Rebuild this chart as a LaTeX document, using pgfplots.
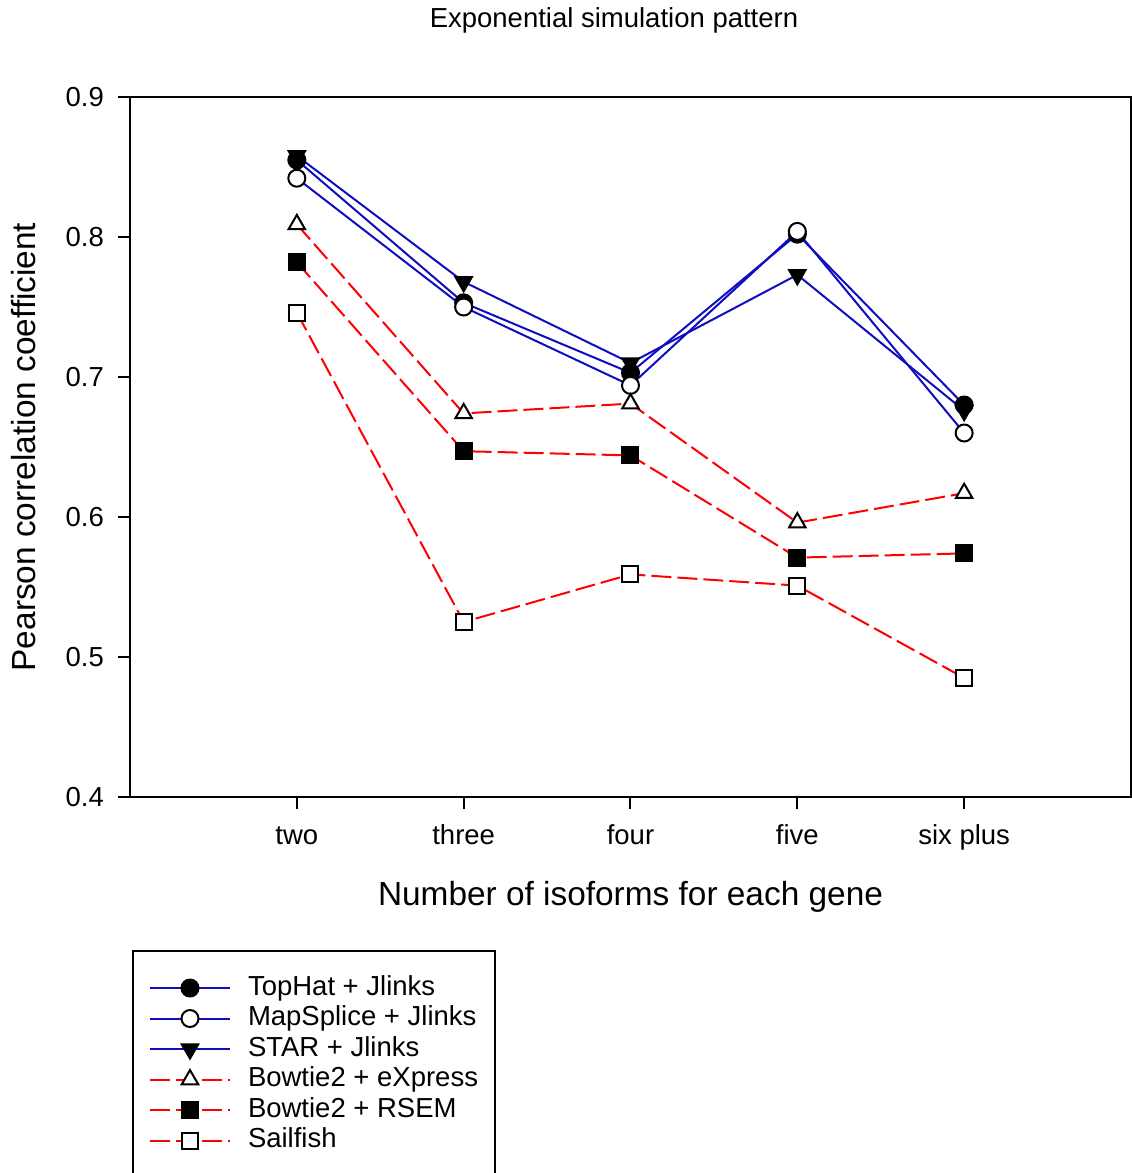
\documentclass[border=0pt]{standalone}
\usepackage{fontspec}
\setmainfont{Liberation Sans}
\usepackage{pgfplots}
\pgfplotsset{compat=1.18}
\definecolor{lineblue}{RGB}{14,14,192}
\definecolor{linered}{RGB}{255,0,0}

\newcommand{\ticksize}{\fontsize{13.75}{16}\selectfont}
\newcommand{\labelsize}{\fontsize{16.7}{20}\selectfont}

\begin{document}
\begin{tikzpicture}
\begin{axis}[
  at={(0pt,0pt)}, anchor=south west,
  width=500.5pt, height=350pt, scale only axis,
  xmin=-1, xmax=5, ymin=0.4, ymax=0.9,
  xtick={0,1,2,3,4},
  xticklabels={two,three,four,five,six plus},
  ytick={0.4,0.5,0.6,0.7,0.8,0.9},
  yticklabel style={xshift=-3.5pt,
    /pgf/number format/fixed, /pgf/number format/fixed zerofill,
    /pgf/number format/precision=1},
  /pgf/number format/assume math mode=true,
  ticklabel style={font=\ticksize},
  xticklabel style={anchor=base, yshift=-17.5pt},
  axis line style={line width=1pt},
  tick style={line width=1pt, black},
  tick align=outside, major tick length=6pt,
  tick pos=left, minor tick num=0,
  title={Exponential simulation pattern},
  every axis title shift=0pt,
  title style={at={(axis description cs:0.4835,1.11)}, anchor=center, yshift=0pt, font=\ticksize},
  xlabel={Number of isoforms for each gene},
  xlabel style={at={(axis description cs:0.5,-0.142)}, anchor=center, font=\labelsize},
  ylabel={Pearson correlation coefficient},
  ylabel style={at={(axis description cs:-0.1059,0.5)}, anchor=center, font=\labelsize},
  legend cell align=left,
  legend style={at={(axis description cs:0.002,-0.2186)}, anchor=north west,
    draw=black, line width=1pt, inner xsep=8pt, inner ysep=12pt,
    font=\ticksize, nodes={inner xsep=0.5pt, inner ysep=0pt, text height=10pt, text depth=3pt},
    column 2/.style={nodes={text width=117pt, align=left}},
    row sep=2.25pt, column sep=8pt},
  legend image code/.code={\draw[mark repeat=2,mark phase=2,#1]
    plot coordinates {(0pt,0pt) (20pt,0pt) (40pt,0pt)};},
  blueline/.style={lineblue, line width=1pt, solid},
  redline/.style={linered, line width=1pt, dash pattern=on 10pt off 3pt},
]
% TopHat + Jlinks
\addplot[blueline, mark=*, mark size=4.25pt,
  mark options={solid, draw=black, fill=black, line width=1pt}]
  coordinates {(0,0.855) (1,0.753) (2,0.703) (3,0.802) (4,0.680)};
\addlegendentry{TopHat + Jlinks}
% MapSplice + Jlinks
\addplot[blueline, mark=*, mark size=4.25pt,
  mark options={solid, draw=black, fill=white, line width=1pt}]
  coordinates {(0,0.842) (1,0.750) (2,0.694) (3,0.804) (4,0.660)};
\addlegendentry{MapSplice + Jlinks}
% STAR + Jlinks
\addplot[blueline, mark=triangle*, mark size=4.75pt,
  mark options={solid, rotate=180, draw=black, fill=black, line width=1pt}]
  coordinates {(0,0.858) (1,0.768) (2,0.710) (3,0.773) (4,0.676)};
\addlegendentry{STAR + Jlinks}
% Bowtie2 + eXpress
\addplot[redline, mark=triangle*, mark size=4.75pt,
  mark options={solid, draw=black, fill=white, line width=1pt}]
  coordinates {(0,0.809) (1,0.674) (2,0.681) (3,0.596) (4,0.617)};
\addlegendentry{Bowtie2 + eXpress}
% Bowtie2 + RSEM
\addplot[redline, mark=square*, mark size=4pt,
  mark options={solid, draw=black, fill=black, line width=1pt}]
  coordinates {(0,0.782) (1,0.647) (2,0.644) (3,0.571) (4,0.574)};
\addlegendentry{Bowtie2 + RSEM}
% Sailfish
\addplot[redline, mark=square*, mark size=4pt,
  mark options={solid, draw=black, fill=white, line width=1pt}]
  coordinates {(0,0.746) (1,0.525) (2,0.559) (3,0.551) (4,0.485)};
\addlegendentry{Sailfish}
\end{axis}
\pgfresetboundingbox
\useasboundingbox (-65pt,-188pt) rectangle (500.5pt,398.5pt);
\end{tikzpicture}
\end{document}
